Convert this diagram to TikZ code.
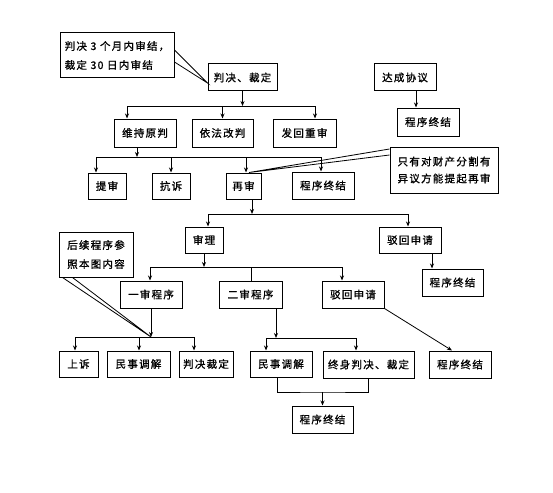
\documentclass[tikz,border=0pt]{standalone}
\usepackage{fontspec}
\newfontfamily\cjk{Noto Sans CJK SC}[LetterSpace=12,FakeBold=1.2]
\usetikzlibrary{arrows.meta,calc}
\begin{document}
\begin{tikzpicture}[x=1pt,y=-1pt,
  box/.style={draw, line width=1pt, inner sep=0pt, font=\cjk\fontsize{10.5}{19}\selectfont, align=center},
  note/.style={box, align=left},
  wh/.style 2 args={minimum width=#1pt, minimum height=#2pt},
  ln/.style={line width=0.8pt},
  arr/.style={ln, -{Stealth[length=5pt,width=4pt]}}]
\useasboundingbox (0,0) rectangle (553,492);

% top row
\node[note, wh={114}{45}] (c1) at (117,55.5) {判决 3 个月内审结，\\裁定 30 日内审结};
\node[box, wh={69}{27}] (pjcd) at (242.5,77.5) {判决、裁定};
\node[box, wh={62}{27}] (dcxy) at (405,77.5) {达成协议};
\node[box, wh={62}{28}] (zj1) at (428,122) {程序终结};

% row 2
\node[box, wh={62}{28}] (wcyp) at (145,133) {维持原判};
\node[box, wh={61}{28}] (yfgp) at (222.5,133) {依法改判};
\node[box, wh={63}{28}] (fhcs) at (304.5,133) {发回重审};

% row 3
\node[box, wh={38}{26}] (ts) at (107,186) {提审};
\node[box, wh={38}{26}] (kx) at (171,186) {抗诉};
\node[box, wh={35}{26}] (zs) at (243.5,186) {再审};
\node[box, wh={62}{27}] (zj2) at (323,185.5) {程序终结};
\node[box, wh={108}{46}, font=\cjk\fontsize{10.5}{17}\selectfont] (c2) at (444,170) {只有对财产分割有\\异议方能提起再审};

% row 4
\node[box, wh={38}{26}] (sl) at (204,240) {审理};
\node[box, wh={62}{26}] (bh1) at (410,240) {驳回申请};
\node[box, wh={61}{27}] (zj3) at (452.5,282.5) {程序终结};

% row 5
\node[note, wh={74}{45}] (c3) at (96,254.5) {后续程序参\\照本图内容};
\node[box, wh={62}{27}] (ys) at (151,294.5) {一审程序};
\node[box, wh={63}{27}] (es) at (250.5,294.5) {二审程序};
\node[box, wh={62}{27}] (bh2) at (353,294.5) {驳回申请};

% row 6
\node[box, wh={39}{26}] (su) at (78.5,364) {上诉};
\node[box, wh={63}{26}] (mt1) at (138.5,364) {民事调解};
\node[box, wh={54}{26}] (pd) at (206,364) {判决裁定};
\node[box, wh={62}{26}] (mt2) at (281,364) {民事调解};
\node[box, wh={91}{27}] (zspj) at (368.5,364.5) {终身判决、裁定};
\node[box, wh={62}{27}] (zj4) at (460,364.5) {程序终结};
\node[box, wh={61}{27}] (zj5) at (322.5,419.5) {程序终结};

% connectors: 判决、裁定 -> row 2
\coordinate (j0) at (242.5,106);
\coordinate (ja) at (127,106);
\coordinate (jc) at (315,106);
\draw[arr] (pjcd.south) -- (j0);
\draw[ln] (ja) -- (jc);
\draw[arr] (ja) -- (ja |- wcyp.north);
\draw[arr] (yfgp.north |- j0) -- (yfgp.north);
\draw[arr] (jc) -- (jc |- fhcs.north);

% 达成协议 -> 程序终结
\draw[arr] ([xshift=11pt]dcxy.south) -- ([xshift=11pt]dcxy.south |- zj1.north);

% 维持原判 -> row 3
\coordinate (k0) at (137,157);
\coordinate (ka) at (96,157);
\coordinate (kb) at (171,157);
\coordinate (kc) at (246,157);
\coordinate (kd) at (321,157);
\draw[arr] (k0 |- wcyp.south) -- (k0);
\draw[ln] (ka) -- (kd);
\draw[arr] (ka) -- (ka |- ts.north);
\draw[arr] (kb) -- (kb |- kx.north);
\draw[arr] (kc) -- (kc |- zs.north);
\draw[arr] (kd) -- (kd |- zj2.north);

% 再审 -> row 4
\coordinate (m0) at (252,214);
\coordinate (ma) at (208,214);
\coordinate (mb) at (408,214);
\draw[arr] (m0 |- zs.south) -- (m0);
\draw[ln] (ma) -- (mb);
\draw[arr] (ma) -- (ma |- sl.north);
\draw[arr] (mb) -- (mb |- bh1.north);
\draw[arr] ([xshift=22pt]bh1.south) -- ([xshift=22pt]bh1.south |- zj3.north);

% 审理 -> row 5
\coordinate (n0) at (204,267);
\coordinate (na) at (150,267);
\coordinate (nb) at (251,267);
\coordinate (nc) at (342,267);
\draw[arr] (sl.south) -- (n0);
\draw[ln] (na) -- (nc);
\draw[arr] (na) -- (na |- ys.north);
\draw[ln] (nb) -- (nb |- es.north);
\draw[arr] (nc) -- (nc |- bh2.north);

% 一审程序 -> row 6
\coordinate (r0) at (151,337);
\coordinate (ra) at (75,337);
\coordinate (rb) at (139,337);
\coordinate (rc) at (194,337);
\draw[arr] (ys.south) -- (r0);
\draw[ln] (ra) -- (rc);
\draw[arr] (ra) -- (ra |- su.north);
\draw[arr] (rb) -- (rb |- mt1.north);
\draw[arr] (rc) -- (rc |- pd.north);

% 二审程序 -> row 6
\coordinate (s0) at (276,338);
\coordinate (sa) at (266,338);
\coordinate (sb) at (356,338);
\draw[arr] (s0 |- es.south) -- (s0);
\draw[ln] (sa) -- (sb);
\draw[arr] (sa) -- (sa |- mt2.north);
\draw[arr] (sb) -- (sb |- zspj.north);

% 驳回申请 -> 程序终结
\draw[arr] (bh2.south east) -- ([xshift=-8pt]zj4.north);

% merge -> 程序终结
\coordinate (q0) at (322.5,392);
\draw[ln] ([xshift=-4pt]mt2.south) |- (q0) -| (zspj.south);
\draw[arr] (q0) -- (zj5.north);

% callout lines
\draw[ln] ($(c1.east)+(0,-5.5)$) -- ($(pjcd.west)+(0,5.5)$) -- ($(c1.east)+(0,6.5)$);
\draw[ln] ($(c2.west)+(0,-21)$) -- ($(zs.north)+(5.5,0)$) -- ($(c2.west)+(0,-15)$);
\draw[ln] ($(c3.south west)+(4,0)$) -- (r0) -- ($(c3.south west)+(14,0)$);
\end{tikzpicture}
\end{document}
